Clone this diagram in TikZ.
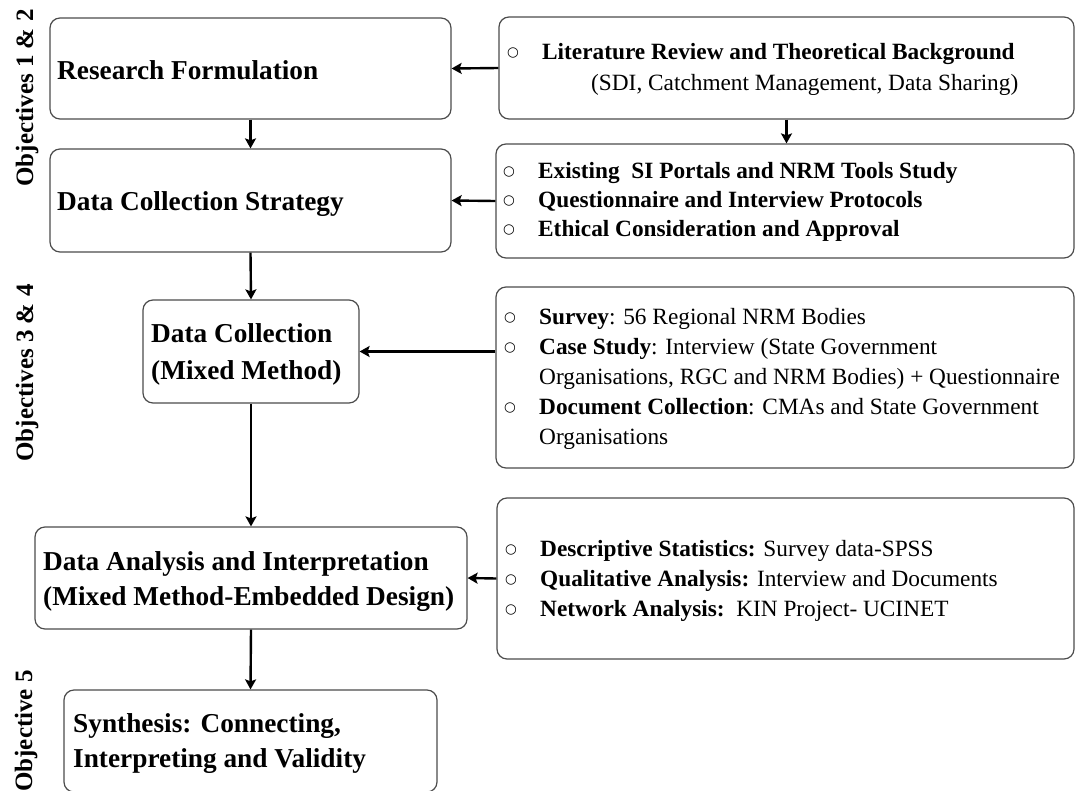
\documentclass[tikz,border=0pt]{standalone}
\usepackage{fontspec}
\setmainfont{Liberation Serif}
\newfontfamily\symfont{DejaVu Sans}
\usetikzlibrary{arrows.meta}

\begin{document}
\begin{tikzpicture}[x=1pt,y=-1pt,
  box/.style={draw=black!70, line width=1.2pt, rounded corners=10pt, inner sep=0pt},
  main/.style={font=\fontsize{27.3}{36}\selectfont\bfseries, anchor=base west, inner sep=0pt},
  rt/.style={font=\fontsize{23.3}{30}\selectfont, anchor=base west, inner sep=0pt},
  rtb/.style={rt, font=\fontsize{23.3}{30}\selectfont\bfseries},
  bul/.style={font=\symfont\fontsize{13.5}{14}\selectfont, anchor=center, inner sep=0pt},
  obj/.style={font=\fontsize{25}{30}\selectfont\bfseries, rotate=90, anchor=base, inner sep=0pt},
  arr/.style={line width=2.4pt, -{Stealth[length=10pt,width=11pt,inset=2pt]}}]

\useasboundingbox (0,0) rectangle (1076,790);

% ---- stage boxes (left column)
\node[box, minimum width=401pt, minimum height=101pt] (A) at (250.5,68.5) {};
\node[box, minimum width=401pt, minimum height=103pt] (B) at (250.5,200.5) {};
\node[box, minimum width=216pt, minimum height=103pt] (C) at (251,351.5) {};
\node[box, minimum width=432pt, minimum height=102pt] (D) at (251,578) {};
\node[box, minimum width=373pt, minimum height=102pt] (E) at (250.5,741) {};

% ---- detail boxes (right column)
\node[box, minimum width=575pt, minimum height=102pt] (R1) at (786.5,68) {};
\node[box, minimum width=578pt, minimum height=114pt] (R2) at (785,201) {};
\node[box, minimum width=578pt, minimum height=181pt] (R3) at (785,377.5) {};
\node[box, minimum width=577pt, minimum height=161pt] (R4) at (785.5,578.5) {};

% ---- stage titles
\node[main] (tA) at (57,79) {Research Formulation};
\node[main] (tB) at (57,210) {Data Collection Strategy};
\node[main] (tC1) at (151,342) {Data Collection};
\node[main] (tC2) at (151,379) {(Mixed Method)};
\node[main] (tD1) at (43,570) {Data Analysis and Interpretation};
\node[main] (tD2) at (43,605) {(Mixed Method-Embedded Design)};
\node[main] (tE1) at (73,732) {Synthesis: Connecting,};
\node[main] (tE2) at (73,767) {Interpreting and Validity};

% ---- objective labels
\node[obj] (o12) at (33,98) {Objectives 1 \& 2};
\node[obj] (o34) at (33,373) {Objectives 3 \& 4};
\node[obj] (o5) at (32,731) {Objective 5};

% ---- literature
\node[bul] (b11) at (513,53) {○};
\node[rtb] (l11) at (542,59) {Literature Review and Theoretical Background};
\node[rt] (l12) at (591,90) {(SDI, Catchment Management, Data Sharing)};

% ---- strategy items
\node[bul] (b21) at (509,172) {○};
\node[bul] (b22) at (509,201) {○};
\node[bul] (b23) at (509,230) {○};
\node[rtb] (l21) at (538,178) {Existing\ \ SI Portals and NRM Tools Study};
\node[rtb] (l22) at (538,207) {Questionnaire and Interview Protocols};
\node[rtb] (l23) at (538,236) {Ethical Consideration and Approval};

% ---- collection items
\node[bul] (b31) at (510,318) {○};
\node[bul] (b32) at (510,348) {○};
\node[bul] (b33) at (510,408) {○};
\node[rt] (l31) at (539,324) {\textbf{Survey}: 56 Regional NRM Bodies};
\node[rt] (l32) at (539,354) {\textbf{Case Study}: Interview (State Government};
\node[rt] (l33) at (539,384) {Organisations, RGC and NRM Bodies) + Questionnaire};
\node[rt] (l34) at (539,414) {\textbf{Document Collection}: CMAs and State Government};
\node[rt] (l35) at (539,444) {Organisations};

% ---- analysis items
\node[bul] (b41) at (511,550) {○};
\node[bul] (b42) at (511,580) {○};
\node[bul] (b43) at (511,610) {○};
\node[rt] (l41) at (540,556) {\textbf{Descriptive Statistics:} Survey data-SPSS};
\node[rt] (l42) at (540,586) {\textbf{Qualitative Analysis:} Interview and Documents};
\node[rt] (l43) at (540,616) {\textbf{Network Analysis:}\ \ KIN Project- UCINET};

% ---- connectors
\draw[arr] (A.south) -- (B.north);
\draw[arr] (B.south) -- (C.north);
\draw[arr] (C.south) -- (D.north);
\draw[arr] (D.south) -- (E.north);
\draw[arr] (R1.west) -- (A.east);
\draw[arr] (R2.west) -- (B.east);
\draw[arr] (R3.west |- C.east) -- (C.east);
\draw[arr] (R4.west) -- (D.east);
\draw[arr] (R1.south) -- (R1.south |- R2.north);
\end{tikzpicture}
\end{document}
